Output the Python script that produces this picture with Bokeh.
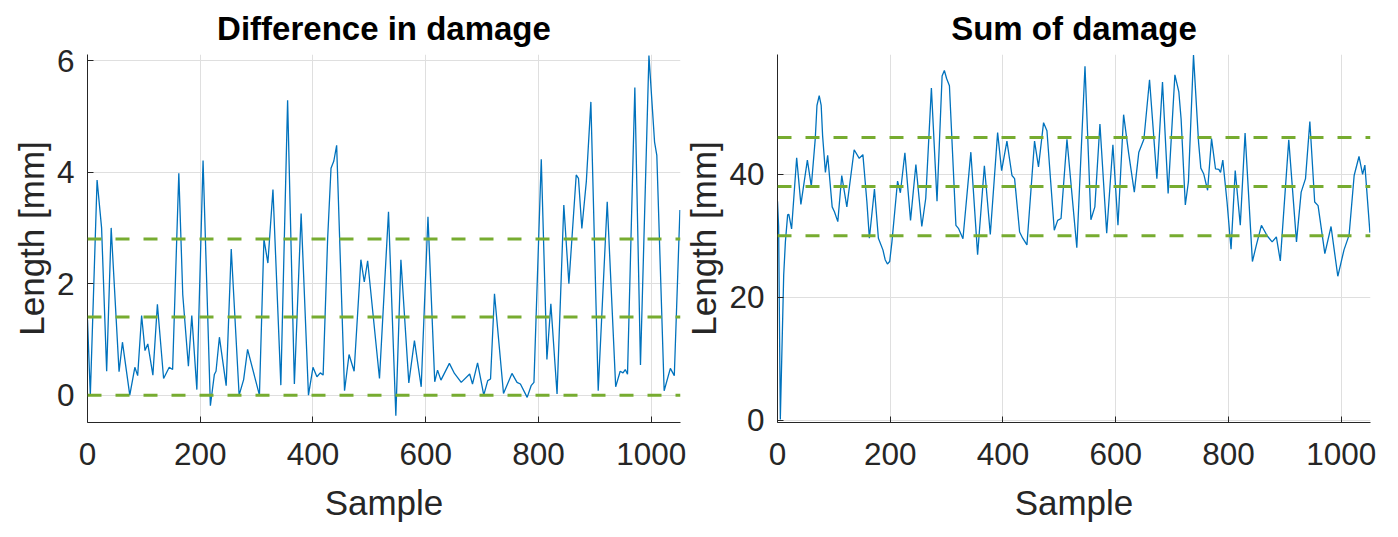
from bokeh.plotting import figure
from bokeh.layouts import row
from bokeh.models import Span, FixedTicker
from bokeh.embed import file_html
from bokeh.resources import INLINE

# ---- data ----
diff_x = [0, 5, 17, 25, 34, 42, 56, 62, 75, 84, 89, 96, 102, 107, 116, 124, 135, 145, 151,
          162, 169, 179, 185, 194, 205, 218, 225, 228, 234, 246, 255, 269, 277, 284, 305, 313,
          320, 329, 343, 355, 367, 379, 392, 400, 407, 413, 418, 426, 432, 437, 442, 456, 464,
          473, 485, 491, 497, 518, 534, 547, 556, 570, 580, 592, 604, 616, 621, 627, 642, 651,
          663, 678, 683, 692, 703, 710, 715, 722, 738, 753, 762, 768, 780, 787, 792, 805, 815,
          822, 833, 845, 854, 867, 871, 877, 885, 893, 906, 922, 937, 945, 950, 954, 958, 971,
          981, 996, 1006, 1010, 1023, 1034, 1041, 1051]
diff_y = [1.35, 0.0, 3.86, 3.0, 0.43, 3.0, 0.42, 0.95, 0.0, 0.5, 0.35, 1.43, 0.8, 0.92, 0.36,
          1.63, 0.3, 0.5, 0.46, 3.98, 1.8, 0.52, 1.43, 0.1, 4.21, -0.19, 0.37, 0.43, 1.04, 0.17,
          2.62, 0.0, 0.28, 0.82, 0.0, 2.8, 2.37, 3.69, 0.18, 5.29, 0.2, 3.26, 0.0, 0.5, 0.33,
          0.4, 0.36, 2.8, 4.07, 4.2, 4.48, 0.08, 0.73, 0.43, 2.43, 2.03, 2.41, 0.3, 3.29, -0.37,
          2.43, 0.22, 0.98, 0.15, 3.2, 0.24, 0.45, 0.27, 0.57, 0.39, 0.23, 0.38, 0.2, 0.58, 0.0,
          0.26, 0.29, 1.82, 0.03, 0.39, 0.23, 0.2, -0.04, 0.17, 0.23, 4.23, 0.64, 1.64, 0.02,
          3.41, 2.0, 3.95, 3.89, 2.99, 3.84, 5.26, 0.08, 3.47, 0.15, 0.43, 0.4, 0.46, 0.375,
          5.52, 0.54, 6.09, 4.54, 4.3, 0.08, 0.48, 0.35, 3.32]

sum_x = [0, 2, 5, 11, 14, 18, 20, 25, 34, 41.5, 53, 60, 67, 70, 74, 77.5, 80, 85, 89, 97, 101,
         107, 114, 123, 136, 145, 151.5, 158.6, 163, 172, 179, 187, 191, 195, 199, 203, 213, 218,
         226, 236, 245.5, 256, 263, 273, 283, 292, 296, 300, 305, 316.5, 321, 329, 343, 355, 367,
         377.5, 390.5, 397.6, 407, 416, 420.6, 429.5, 435, 442.5, 456, 463, 472, 478, 491, 497,
         503, 513.5, 531, 545.5, 556, 563, 572, 584, 595, 604, 614, 623, 633, 641, 650, 660,
         673, 683, 693, 705, 712, 716, 723.5, 729, 738, 747, 751, 756, 763, 770, 777, 783, 786,
         790, 797.5, 804.6, 812, 821, 829.5, 842.5, 849.6, 858.5, 868.6, 877.5, 885, 892, 907,
         920.7, 929, 936.7, 944.4, 953, 959, 971, 982, 994, 1005, 1014, 1023, 1031.6, 1038,
         1042, 1051]
sum_y = [35.6, 31.5, 0.1, 23.6, 29, 33.4, 33.5, 31.1, 42.7, 35.1, 42.3, 38.05, 45.8, 51.2, 52.8,
         51.2, 46.3, 40.3, 43.1, 34.7, 33.9, 32.3, 39.8, 34.7, 44, 42.6, 43.2, 35.5, 29.6, 37.6,
         29.6, 27.7, 26.1, 25.4, 25.8, 29, 38.9, 37, 43.5, 32.5, 41.6, 31.5, 36.1, 54.05, 35.6,
         56.0, 56.9, 55.6, 54.4, 31.7, 31.2, 29.5, 43.6, 26.9, 41.4, 30.2, 46.8, 40.6, 45.4,
         39.8, 39.3, 30.6, 29.6, 28.5, 45.4, 41.2, 48.4, 47.1, 30.9, 32.5, 32.8, 45.7, 28.05,
         57.6, 32.6, 34.7, 48.2, 30.4, 44.8, 31.7, 49.7, 43.4, 37.1, 43.6, 45.7, 55.4, 39.3, 55,
         36.9, 56.2, 53.4, 49, 35, 38.8, 59.4, 45.2, 41, 40.1, 37.4, 45.8, 40.9, 40.8, 40.3,
         42.3, 35.5, 27.8, 40.6, 31.7, 46.7, 25.8, 28.5, 31.7, 30, 29, 29.8, 25.9, 45.6, 29,
         37.1, 39.3, 48.6, 35.5, 34.9, 27.1, 31.5, 23.4, 27.7, 30.1, 39.8, 42.9, 40, 41.5, 30.5]

diff_levels = [0.0, 1.4, 2.8]
sum_levels = [30, 38, 46]

x_ticks = [0, 200, 400, 600, 800, 1000]
diff_ticks = [0, 2, 4, 6]
sum_ticks = [0, 20, 40]

titles = ["Difference in damage", "Sum of damage"]
x_label = "Sample"
y_label = "Length [mm]"

FONT = "Liberation Sans"
AX = "#262626"


def make(title, xs, ys, levels, yticks, yrange, width, left, right):
    p = figure(width=width, height=533, x_range=(0, 1052), y_range=yrange,
               output_backend="svg", toolbar_location=None,
               min_border_left=left, min_border_right=right,
               min_border_top=52, min_border_bottom=111)
    p.outline_line_color = None
    p.background_fill_color = "white"
    p.border_fill_color = None
    p.title.text = title
    p.title.align = "center"
    p.title.text_font = FONT
    p.title.text_font_size = "33px"
    p.title.text_font_style = "bold"
    p.title.text_color = "black"
    p.title.standoff = 15

    p.line(xs, ys, line_color="#0072BD", line_width=1.3)
    for v in levels:
        p.add_layout(Span(location=v, dimension="width", line_color="#77AC30",
                          line_width=3, line_dash="14 14"))

    p.xaxis.ticker = FixedTicker(ticks=x_ticks)
    p.yaxis.ticker = FixedTicker(ticks=yticks)
    for ax in (p.xaxis, p.yaxis):
        ax.axis_line_color = AX
        ax.axis_line_width = 1
        ax.major_tick_line_color = AX
        ax.major_tick_in = 6
        ax.major_tick_out = 0
        ax.minor_tick_line_color = None
        ax.major_label_text_font = FONT
        ax.major_label_text_font_size = "31.5px"
        ax.major_label_text_color = AX
        ax.axis_label_text_font = FONT
        ax.axis_label_text_font_size = "35px"
        ax.axis_label_text_font_style = "normal"
        ax.axis_label_text_color = AX
    p.xaxis.axis_label = x_label
    p.yaxis.axis_label = y_label
    p.xaxis.major_label_standoff = 20
    p.xaxis.axis_label_standoff = 15
    p.yaxis.major_label_standoff = 13
    p.yaxis.axis_label_standoff = 3

    p.xgrid.grid_line_color = "#dfdfdf"
    p.ygrid.grid_line_color = "#dfdfdf"
    p.xgrid.ticker = FixedTicker(ticks=x_ticks)
    p.ygrid.ticker = FixedTicker(ticks=yticks)
    return p


p1 = make(titles[0], diff_x, diff_y, diff_levels, diff_ticks, (-0.49, 6.11), 686, 87, 6)
p2 = make(titles[1], sum_x, sum_y, sum_levels, sum_ticks, (-0.4, 59.5), 709, 96, 20)
p2.styles = {"margin-left": "-5px"}

layout = row(p1, p2)
open("out.html", "w").write(file_html(layout, INLINE))
